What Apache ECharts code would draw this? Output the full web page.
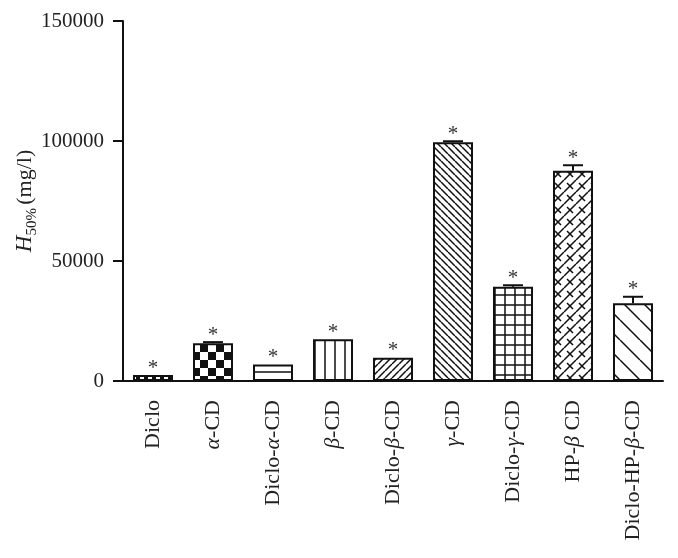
<!DOCTYPE html>
<html>
<head>
<meta charset="utf-8">
<script src="https://cdn.jsdelivr.net/npm/echarts@6/dist/echarts.min.js"></script>
<style>
  html, body { margin: 0; padding: 0; background: #fff; }
  #main { width: 678px; height: 558px; }
</style>
</head>
<body>
<div id="main"></div>
<script>
const categories = ['Diclo', 'α-CD', 'Diclo-α-CD', 'β-CD', 'Diclo-β-CD', 'γ-CD', 'Diclo-γ-CD', 'HP-β CD', 'Diclo-HP-β-CD'];
const h50 = [2500, 15700, 6900, 17400, 9700, 99500, 39300, 87600, 32400];
const h50Err = [0, 500, 0, 0, 0, 400, 600, 2300, 2700];
const yTicks = [0, 50000, 100000, 150000];

// fill patterns, one per bar
function tile(w, h, draw) {
    const c = document.createElement('canvas');
    c.width = w; c.height = h;
    const g = c.getContext('2d');
    g.fillStyle = '#fff';
    g.fillRect(0, 0, w, h);
    g.strokeStyle = '#111';
    g.fillStyle = '#111';
    g.lineWidth = 1.5;
    draw(g, w, h);
    return { image: c, repeat: 'repeat' };
}
function diag(g, w, h, back) {
    g.beginPath();
    for (let k = -1; k <= 1; k++) {
        if (back) { g.moveTo(k * w, 0); g.lineTo(k * w + w, h); }
        else { g.moveTo(k * w, h); g.lineTo(k * w + w, 0); }
    }
    g.stroke();
}
const patterns = [
    tile(8, 8, (g) => { g.fillRect(0, 0, 4, 4); g.fillRect(4, 4, 4, 4); }),
    tile(16, 16, (g) => { g.fillRect(0, 0, 8, 8); g.fillRect(8, 8, 8, 8); }),
    tile(8, 8, (g) => { g.beginPath(); g.moveTo(0, 4); g.lineTo(8, 4); g.stroke(); }),
    tile(10, 10, (g) => { g.beginPath(); g.moveTo(5, 0); g.lineTo(5, 10); g.stroke(); }),
    tile(7, 7, (g, w, h) => diag(g, w, h, false)),
    tile(7, 7, (g, w, h) => diag(g, w, h, true)),
    tile(10, 10, (g) => { g.beginPath(); g.moveTo(0, 5); g.lineTo(10, 5); g.moveTo(5, 0); g.lineTo(5, 10); g.stroke(); }),
    tile(12, 12, (g, w, h) => {
        diag(g, w, h, false);
        g.beginPath();
        g.moveTo(3, 3); g.lineTo(9, 9);
        g.moveTo(-3, 9); g.lineTo(3, 15);
        g.moveTo(9, -3); g.lineTo(15, 3);
        g.stroke();
    }),
    tile(20, 20, (g, w, h) => diag(g, w, h, true))
];

const serif = '"Liberation Serif", "DejaVu Serif", serif';
const chart = echarts.init(document.getElementById('main'));

chart.setOption({
    animation: false,
    backgroundColor: '#fff',
    grid: { left: 123, right: 15, top: 21, bottom: 177, outerBoundsMode: 'none' },
    xAxis: {
        type: 'category',
        data: categories,
        axisLine: { lineStyle: { color: '#111', width: 2 } },
        axisTick: { alignWithLabel: true, length: 9, lineStyle: { color: '#111', width: 2 } },
        axisLabel: {
            rotate: 90,
            margin: 19,
            fontFamily: serif,
            fontSize: 22,
            color: '#222',
            formatter: (v) => v.replace(/([αβγ])/g, '{g|$1}'),
            rich: { g: { fontStyle: 'italic', fontFamily: serif, fontSize: 22, color: '#222' } }
        }
    },
    yAxis: {
        type: 'value',
        min: yTicks[0],
        max: yTicks[yTicks.length - 1],
        interval: yTicks[1] - yTicks[0],
        name: '{i|H}{s|50%} {n|(mg/l)}',
        nameLocation: 'middle',
        nameGap: 83,
        nameMoveOverlap: false,
        nameTextStyle: {
            rich: {
                i: { fontStyle: 'italic', fontFamily: serif, fontSize: 23, color: '#222', lineHeight: 30, verticalAlign: 'middle' },
                s: { fontFamily: serif, fontSize: 15, color: '#222', lineHeight: 15, verticalAlign: 'bottom' },
                n: { fontFamily: serif, fontSize: 22, color: '#222', lineHeight: 30, verticalAlign: 'middle' }
            }
        },
        axisLine: { show: true, lineStyle: { color: '#111', width: 2 } },
        axisTick: { show: true, length: 10, lineStyle: { color: '#111', width: 2 } },
        axisLabel: { fontFamily: serif, fontSize: 21, color: '#222', margin: 19, formatter: (v) => String(v) },
        splitLine: { show: false }
    },
    series: [
        {
            type: 'bar',
            barWidth: 40,
            data: h50.map((v, i) => ({
                value: v,
                itemStyle: { color: patterns[i], borderColor: '#111', borderWidth: 2 }
            }))
        },
        {
            type: 'custom',
            data: h50.map((v, i) => [i, v, h50Err[i]]),
            z: 5,
            renderItem: (params, api) => {
                const i = api.value(0);
                const v = api.value(1);
                const e = api.value(2);
                const base = api.coord([i, v]);
                const top = api.coord([i, v + e]);
                const children = [];
                if (e > 0) {
                    children.push({
                        type: 'line',
                        shape: { x1: base[0], y1: base[1], x2: top[0], y2: top[1] },
                        style: { stroke: '#111', lineWidth: 2 }
                    });
                    children.push({
                        type: 'line',
                        shape: { x1: top[0] - 10, y1: top[1], x2: top[0] + 10, y2: top[1] },
                        style: { stroke: '#111', lineWidth: 2 }
                    });
                }
                children.push({
                    type: 'text',
                    x: top[0],
                    y: top[1] - 7,
                    style: {
                        text: '*',
                        fontFamily: serif,
                        fontSize: 21,
                        fill: '#333',
                        align: 'center',
                        verticalAlign: 'middle'
                    }
                });
                return { type: 'group', children: children };
            }
        }
    ]
});
</script>
</body>
</html>
